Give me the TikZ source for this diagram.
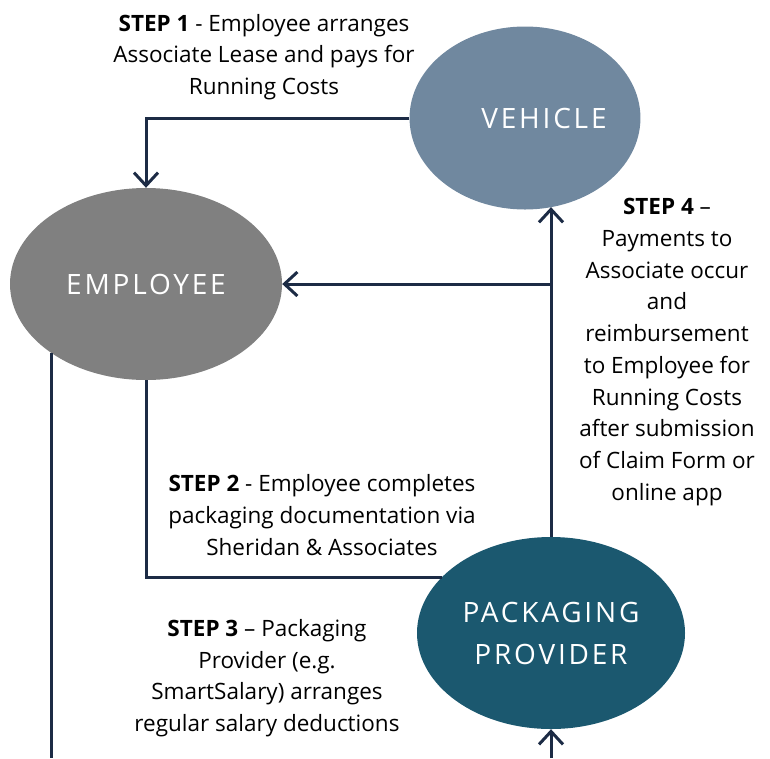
\documentclass[tikz,border=0pt]{standalone}
\usepackage{fontspec}
\setmainfont{Open Sans}
\newfontfamily\capsfont[LetterSpace=10]{Open Sans}
\usetikzlibrary{arrows.meta}
\usetikzlibrary{shapes.geometric}

\definecolor{vehiclecol}{HTML}{70889F}
\definecolor{employeecol}{HTML}{808080}
\definecolor{providercol}{HTML}{1B586F}
\definecolor{linecol}{HTML}{1C2B45}

\tikzset{
  blob/.style={ellipse,inner sep=0pt,text=white,align=center,
    font=\capsfont\fontsize{28}{42}\selectfont},
  stepnote/.style={align=center,font=\fontsize{22.5}{31.7}\selectfont},
  link/.style={draw=linecol,line width=3pt},
  flow/.style={link,-{Straight Barb[length=13pt,width=24pt]}},
}

\begin{document}
\begin{tikzpicture}[x=1pt,y=-1pt]
\useasboundingbox (0,0) rectangle (770,758);

\node[blob,fill=vehiclecol,minimum width=226pt,minimum height=183pt] (vehicle) at (525,118) {\hspace*{38pt}VEHICLE};
\node[blob,fill=employeecol,minimum width=272pt,minimum height=192pt] (employee) at (146,284) {\raisebox{-3pt}{EMPLOYEE}};
\node[blob,fill=providercol,minimum width=268pt,minimum height=192pt] (provider) at (551,633) {\raisebox{-3pt}{PACKAGING}\\\raisebox{-3pt}{PROVIDER}};

\node[stepnote] (step1) at (264,57) {\textbf{STEP 1} - Employee arranges\\Associate Lease and pays for\\Running Costs};
\node[stepnote] (step4) at (667,352) {\textbf{STEP 4} --\\Payments to\\Associate occur\\and\\reimbursement\\to Employee for\\Running Costs\\after submission\\of Claim Form or\\online app};
\node[stepnote] (step2) at (322,515) {\textbf{STEP 2} - Employee completes\\packaging documentation via\\Sheridan \& Associates};
\node[stepnote] (step3) at (267,678) {\textbf{STEP 3} -- Packaging\\Provider (e.g.\\SmartSalary) arranges\\regular salary deductions};

\draw[flow] (vehicle.west) -| (employee.north);
\draw[flow] (provider.north) -- (provider.north |- vehicle.-73);
\coordinate (split) at (provider.north |- employee.east);
\draw[flow] (split) -- (employee.east);
\draw[link] (employee.south) |- (provider.153);

\coordinate (leftend) at (52,758);
\draw[link] (employee.216) -- (employee.216 |- leftend);
\coordinate (bottomend) at (551,758);
\draw[flow] (bottomend) -- (provider.south);

\end{tikzpicture}
\end{document}
